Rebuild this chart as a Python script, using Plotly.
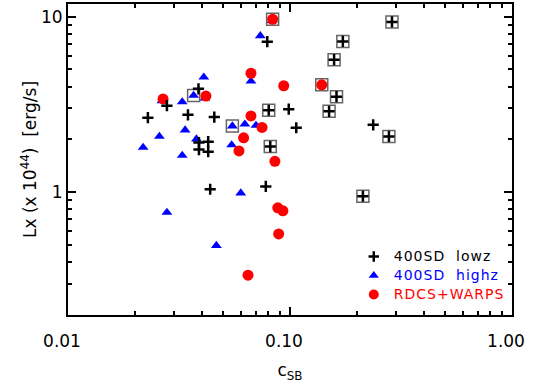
import numpy as np
import plotly.graph_objects as go

# 400SD low-z clusters (black plus)
lowz_c = [0.079, 0.0387, 0.0279, 0.0347, 0.0229, 0.0456, 0.0802, 0.0987, 0.1067, 0.0815,
          0.0389, 0.0389, 0.0428, 0.0428, 0.0437, 0.0778,
          0.288, 0.173, 0.158, 0.162, 0.150, 0.237, 0.279, 0.213]
lowz_lx = [7.2, 3.88, 3.11, 2.76, 2.66, 2.68, 2.93, 2.97, 2.33, 1.82,
           1.92, 1.75, 1.94, 1.70, 1.04, 1.08,
           9.33, 7.22, 5.69, 3.50, 2.89, 2.42, 2.08, 0.949]

# 400SD high-z clusters (blue triangle)
highz_c = [0.0831, 0.0735, 0.0409, 0.0667, 0.0368, 0.0265, 0.0414, 0.0327, 0.0337, 0.055,
           0.0626, 0.0703, 0.0258, 0.0218, 0.0379, 0.0327, 0.0546, 0.060, 0.0279, 0.0466]
highz_lx = [9.49, 7.78, 4.52, 4.29, 3.56, 3.31, 3.44, 3.27, 2.26, 2.38,
            2.44, 2.40, 2.08, 1.80, 2.01, 1.62, 1.86, 0.99, 0.768, 0.497]

# RDCS + WARPS (red circle)
rdcs_c = [0.0835, 0.0667, 0.0937, 0.139, 0.0418, 0.0268, 0.0667, 0.0748, 0.0618, 0.0589,
          0.0855, 0.0881, 0.0929, 0.0889, 0.0647]
rdcs_lx = [9.66, 4.76, 4.04, 4.09, 3.53, 3.40, 2.72, 2.34, 2.04, 1.72,
           1.50, 0.815, 0.784, 0.579, 0.337]

# highlighted objects (grey boxes)
box_c = [0.0835, 0.0368, 0.055, 0.0802, 0.0815, 0.139, 0.288, 0.173, 0.158, 0.162, 0.150, 0.279, 0.213]
box_lx = [9.66, 3.56, 2.38, 2.93, 1.82, 4.09, 9.33, 7.22, 5.69, 3.50, 2.89, 2.08, 0.949]

# axis ticks
x_major = [0.01, 0.1, 1]
x_major_text = ["0.01", "0.10", "1.00"]
x_minor = [m * d for d in (0.01, 0.1) for m in range(2, 10)]
y_major = [1, 10]
y_major_text = ["1", "10"]
y_minor = [m * d for d in (0.1, 1) for m in range(2, 10)]

X_RANGE = [-2, 0]
Y_RANGE = [np.log10(0.2), np.log10(11.8)]

FONT = "DejaVu Sans"
LEG = "font-size:14px;letter-spacing:1px"

fig = go.Figure()
fig.add_trace(go.Scatter(x=box_c, y=box_lx, mode="markers", showlegend=False,
                         marker=dict(symbol="square-open", size=12, color="#666666",
                                     line=dict(width=1.5, color="#666666"))))
fig.add_trace(go.Scatter(x=highz_c, y=highz_lx, mode="markers", showlegend=False,
                         marker=dict(symbol="triangle-up", size=9.5, color="#0000ff", line=dict(width=0))))
fig.add_trace(go.Scatter(x=rdcs_c, y=rdcs_lx, mode="markers", showlegend=False,
                         marker=dict(symbol="circle", size=11, color="#ff0000", line=dict(width=0))))
fig.add_trace(go.Scatter(x=lowz_c, y=lowz_lx, mode="markers", showlegend=False,
                         marker=dict(symbol="cross-thin", size=8, color="black",
                                     line=dict(width=2.5, color="black"))))

# legend-only entries, in reference order
fig.add_trace(go.Scatter(x=[None], y=[None], mode="markers",
                         name=f"<span style='{LEG}'>400SD  lowz</span>",
                         marker=dict(symbol="cross-thin", size=7.5, line=dict(width=2.5, color="black"))))
fig.add_trace(go.Scatter(x=[None], y=[None], mode="markers",
                         name=f"<span style='{LEG};color:#0000ff'>400SD  highz</span>",
                         marker=dict(symbol="triangle-up", size=9, color="#0000ff")))
fig.add_trace(go.Scatter(x=[None], y=[None], mode="markers",
                         name=f"<span style='{LEG};color:#ff0000'>RDCS+WARPS</span>",
                         marker=dict(symbol="circle", size=10, color="#ff0000")))

# empty trace so the minor-tick overlay axes are drawn
fig.add_trace(go.Scatter(x=[None], y=[None], xaxis="x2", yaxis="y2", showlegend=False, hoverinfo="skip"))

fig.update_layout(
    xaxis=dict(type="log", range=X_RANGE, tickmode="array",
               tickvals=x_major, ticktext=x_major_text, ticklabelshift=-6, ticklabelstandoff=10,
               showgrid=False, zeroline=False, showline=True, linecolor="black", linewidth=2,
               mirror="ticks", ticks="inside", ticklen=8, tickwidth=2, tickcolor="black",
               tickfont=dict(family=FONT, size=17, color="black"),
               title=dict(text="c<sub>SB</sub>", font=dict(family=FONT, size=17, color="black"), standoff=14)),
    yaxis=dict(type="log", range=Y_RANGE, tickmode="array",
               tickvals=y_major, ticktext=y_major_text,
               showgrid=False, zeroline=False, showline=True, linecolor="black", linewidth=2,
               mirror="ticks", ticks="inside", ticklen=8, tickwidth=2, tickcolor="black",
               tickfont=dict(family=FONT, size=17, color="black"),
               title=dict(text="Lx (x 10<sup>44</sup>)  [erg/s]", font=dict(family=FONT, size=17, color="black"),
                          standoff=0)),
    xaxis2=dict(type="log", range=X_RANGE, tickmode="array", tickvals=x_minor,
                overlaying="x", anchor="y2", side="bottom", showgrid=False, zeroline=False,
                showticklabels=False, mirror="ticks", ticks="inside", ticklen=4, tickwidth=2,
                tickcolor="black"),
    yaxis2=dict(type="log", range=Y_RANGE, tickmode="array", tickvals=y_minor,
                overlaying="y", anchor="x2", side="left", showgrid=False, zeroline=False,
                showticklabels=False, mirror="ticks", ticks="inside", ticklen=4, tickwidth=2,
                tickcolor="black"),
    width=534, height=383,
    margin=dict(l=68, r=22, t=2, b=68),
    paper_bgcolor="white", plot_bgcolor="white",
    font=dict(family=FONT, color="black"),
    hovermode=False,
    legend=dict(x=0.995, y=0.235, xanchor="right", yanchor="top",
                bgcolor="rgba(0,0,0,0)", font=dict(family=FONT, size=12, color="black"),
                itemwidth=30, tracegroupgap=0),
)

# drop the page's default body margin so the figure sits at the window's corner
fig.write_html("out.html", config={"displayModeBar": False},
               post_script="document.body.style.margin='0px';document.body.style.padding='0px';")
